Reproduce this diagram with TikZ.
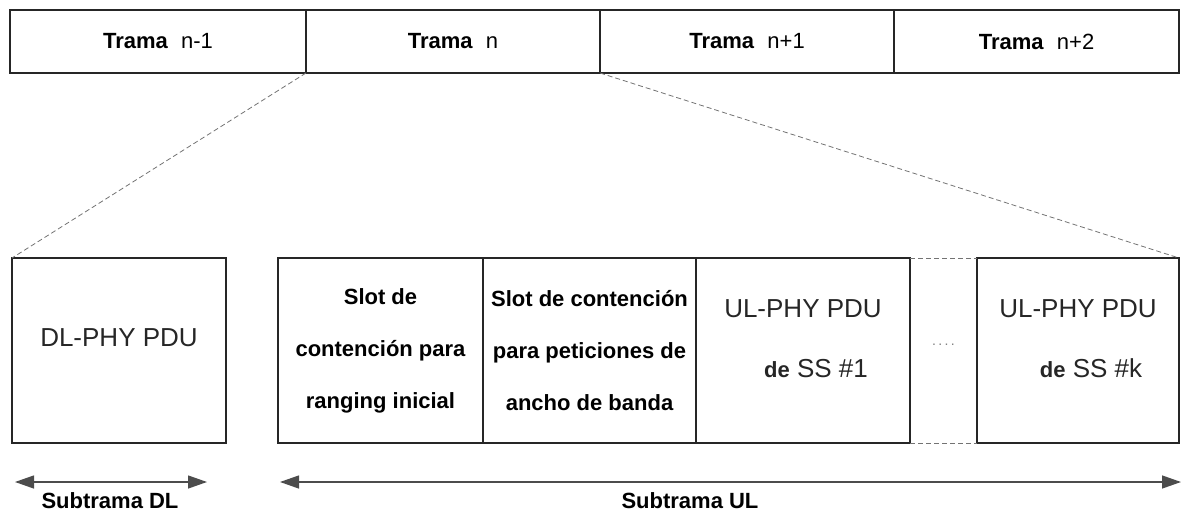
\documentclass[tikz,border=0pt]{standalone}
\usepackage{fontspec}
\setmainfont{Liberation Sans}
\usetikzlibrary{calc,positioning,arrows.meta}

\tikzset{
  caja/.style={draw=black!85, line width=1.5pt, inner sep=0pt, outer sep=0pt},
  guia/.style={draw=black!55, line width=0.8pt, dash pattern=on 5pt off 3pt},
  flecha/.style={draw=black!70, line width=1.3pt,
    {Triangle[length=19pt,width=13pt]}-{Triangle[length=19pt,width=13pt]}},
  negrita/.style={font=\fontsize{22}{26}\selectfont\bfseries},
}

\begin{document}
\begin{tikzpicture}[x=1pt,y=-1pt]
  \useasboundingbox (0,0) rectangle (1181,514);
  \foreach \n/\xa/\xb/\lab in {0/10/306/n-1,1/306/600/n,2/600/894/n+1,3/894/1179/n+2} {
    \node[caja, anchor=north west, minimum height=63pt, minimum width={(\xb-\xa)*1pt},
      font=\fontsize{22}{26}\selectfont] (t\n) at (\xa,10)
      {\textbf{Trama}\hspace{0.6em}\lab};
  }

  \node[caja, anchor=north west, minimum width=214pt, minimum height=185pt] (dl) at (12,258) {};
  \node[font=\fontsize{26}{30}\selectfont, text=black!85] (dltxt) at ($(dl.center)+(0,-13)$) {DL-PHY PDU};

  \node[caja, anchor=north west, minimum width=205pt, minimum height=185pt, align=center,
    font=\fontsize{22}{52}\selectfont\bfseries] (s1) at (278,258)
    {Slot de\\contención para\\ranging inicial};
  \node[caja, anchor=north west, minimum width=213pt, minimum height=185pt, align=center,
    font=\fontsize{22}{52}\selectfont\bfseries] (s2) at (483,258)
    {Slot de contención\\para peticiones de\\ancho de banda};
  \node[caja, anchor=north west, minimum width=214pt, minimum height=185pt] (u1) at (696,258) {};
  \node[caja, anchor=north west, minimum width=202pt, minimum height=185pt] (uk) at (977,258) {};
  \foreach \b/\k in {u1/1,uk/k} {
    \node[align=center, font=\fontsize{26}{60}\selectfont, text=black!85] (\b txt)
      at ($(\b.center)+(0,-12)$)
      {UL-PHY PDU\\\hspace*{26pt}\textbf{\fontsize{22}{60}\selectfont de}~SS~\#\k};
  }
  \draw[guia] (u1.north east) -- (uk.north west);
  \draw[guia] (u1.south east) -- (uk.south west);
  \node[font=\fontsize{14}{16}\selectfont, text=black!50] (puntos)
    at ($(u1.east)!0.5!(uk.west)+(0,-6)$) {.\,.\,.\,.};

  \draw[guia] (t1.south west) -- (dl.north west);
  \draw[guia] (t2.south west) -- (uk.north east);

  \coordinate (dla) at (15,482);
  \coordinate (dlb) at (207,482);
  \coordinate (ula) at (280,482);
  \coordinate (ulb) at (1181,482);
  \draw[flecha] (dla) -- (dlb);
  \draw[flecha] (ula) -- (ulb);
  \node[negrita] (subdl) at (110,501) {Subtrama DL};
  \node[negrita] (subul) at (690,501) {Subtrama UL};
\end{tikzpicture}
\end{document}
